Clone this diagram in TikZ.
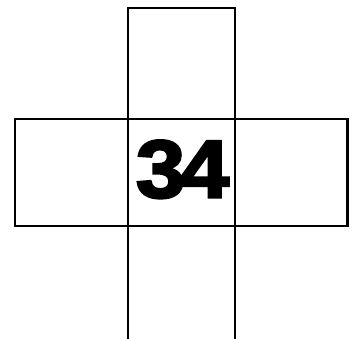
\documentclass[tikz,border=0pt]{standalone}
\usepackage{fontspec}
\newfontfamily\numfont[FakeBold=3]{Liberation Sans Bold}
\begin{document}
\begin{tikzpicture}[x=1pt,y=-1pt,
  gridline/.style={line width=2.8pt,black},
  numtext/.style={font=\numfont\fontsize{82}{82}\selectfont,inner sep=0pt,xscale=1.08}]
\useasboundingbox (0,0) rectangle (360,339);
\coordinate (tl) at (128,8);
\coordinate (tr) at (235,8);
\coordinate (bl) at (128,341);
\coordinate (br) at (235,341);
\draw[gridline] (bl) -- (tl) -- (tr) -- (br);
\draw[gridline] (15,119) rectangle (347.5,226);
\node[numtext,anchor=base] (num) at (182.5,197.5) {3\kern-5pt4};
\end{tikzpicture}
\end{document}
